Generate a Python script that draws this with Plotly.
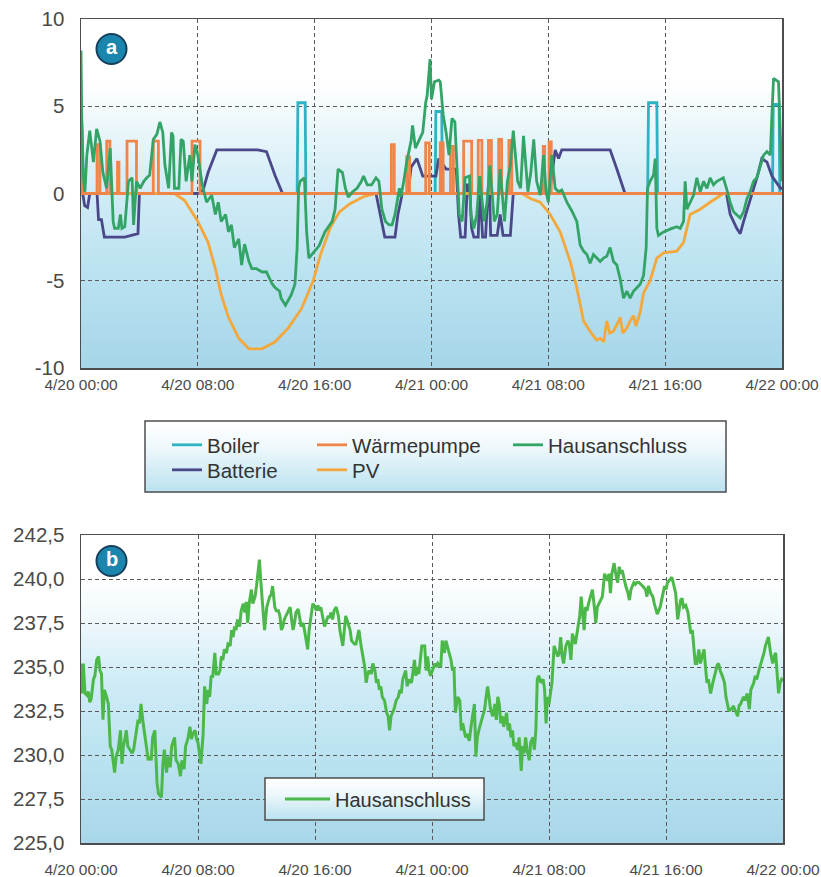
import plotly.graph_objects as go
import pandas as pd

# ---------------- Panel a: power (kW), hours since 4/20 00:00 ----------------
hausanschluss_h = [0.0, 0.05, 0.15, 0.27, 0.4, 0.6, 0.85, 1.07, 1.3, 1.5,
                   1.75, 2.0, 2.2, 2.3, 2.55, 2.7, 2.8, 3.0, 3.25, 3.5,
                   3.6, 3.8, 4.05, 4.3, 4.5, 4.7, 4.95, 5.2, 5.4, 5.6,
                   5.75, 6.0, 6.2, 6.3, 6.4, 6.7, 6.85, 7.0, 7.2, 7.45,
                   7.6, 7.8, 8.0, 8.3, 8.6, 8.95, 9.2, 9.4, 9.6, 9.9,
                   10.1, 10.3, 10.5, 10.8, 11.0, 11.2, 11.5, 11.7, 12.0, 12.4,
                   12.7, 13.1, 13.3, 13.6, 13.7, 14.0, 14.2, 14.4, 14.65, 14.8,
                   14.9, 15.0, 15.3, 15.45, 15.6, 15.9, 16.3, 16.7, 17.2, 17.4,
                   17.6, 17.9, 18.1, 18.3, 18.6, 18.9, 19.2, 19.35, 19.6, 19.9,
                   20.2, 20.4, 20.6, 20.85, 21.1, 21.3, 21.5, 21.8, 21.9, 22.1,
                   22.3, 22.6, 22.7, 22.9, 23.1, 23.4, 23.6, 23.7, 23.9, 24.0,
                   24.2, 24.5, 24.6, 24.8, 25.0, 25.2, 25.4, 25.6, 25.75, 25.9,
                   26.1, 26.3, 26.6, 26.7, 26.9, 27.1, 27.3, 27.6, 27.8, 28.0,
                   28.3, 28.5, 28.7, 29.0, 29.2, 29.4, 29.6, 29.9, 30.1, 30.3,
                   30.6, 30.8, 31.0, 31.2, 31.45, 31.67, 31.85, 32.0, 32.24, 32.47,
                   32.7, 32.92, 33.27, 33.61, 33.95, 34.18, 34.41, 34.64, 34.86, 35.09,
                   35.32, 35.55, 35.78, 36.0, 36.23, 36.46, 36.69, 36.92, 37.15, 37.38,
                   37.6, 37.83, 38.06, 38.29, 38.52, 38.7, 38.79, 38.97, 39.2, 39.32,
                   39.43, 39.54, 39.89, 40.12, 40.46, 40.8, 41.03, 41.26, 41.37, 41.49,
                   41.71, 41.94, 42.17, 42.4, 42.63, 42.86, 43.08, 43.31, 43.54, 43.98,
                   44.2, 44.45, 44.68, 44.9, 45.14, 45.37, 45.6, 45.82, 46.05, 46.28,
                   46.51, 46.74, 46.97, 47.2, 47.31, 47.42, 47.76, 47.9, 48.0]
hausanschluss_kw = [8.2, 4.5, 1.0, 0.1, 2.2, 3.6, 1.8, 3.7, 3.0, 1.2,
                    0.3, 2.6, -1.6, -2.0, -2.0, -1.2, -2.0, -1.9, 0.7, 0.9,
                    -1.8, 0.7, 0.3, 0.7, 0.9, 1.05, 3.1, 3.4, 4.1, 3.5,
                    1.6, 0.3, 3.5, 3.3, 0.3, 0.3, 3.1, 3.0, 0.7, 2.2,
                    0.7, 2.8, 2.2, 0.5, -0.5, -0.1, -1.2, -0.5, -1.6, -1.2,
                    -2.2, -1.8, -3.1, -2.6, -4.1, -2.9, -3.9, -4.3, -4.3, -4.5,
                    -4.5, -5.2, -5.4, -5.6, -6.0, -6.4, -6.1, -5.8, -5.2, -3.1,
                    0.3, 0.7, 0.9, -2.2, -3.7, -3.4, -3.0, -2.2, -1.6, -0.9,
                    1.4, 1.2, 0.3, -0.2, 0.1, 0.3, 0.7, 1.0, 0.5, 0.5,
                    0.9, 0.7, -0.9, -1.6, -1.8, -1.8, -1.2, 0.3, -0.2, 0.7,
                    1.8, 3.0, 3.9, 2.6, 3.0, 3.5, 5.2, 5.6, 7.7, 5.4,
                    6.4, 6.5, 6.4, 4.5, 3.5, 2.2, 4.3, 4.1, 1.4, -1.2,
                    -1.6, 0.9, 1.0, -1.2, -2.0, -1.2, 1.0, -1.6, -0.5, 1.6,
                    -1.6, -1.2, 1.4, -1.6, 0.7, 1.6, 3.6, 0.7, 0.3, 3.3,
                    0.1, 1.2, 3.1, 0.7, -0.1, 2.2, 0.1, -0.5, 2.2, 0.3,
                    0.1, 0.2, -0.5, -1.0, -1.6, -2.95, -3.3, -3.5, -4.0, -3.5,
                    -3.7, -3.9, -3.7, -3.6, -3.1, -3.9, -4.1, -4.9, -6.0, -5.6,
                    -6.0, -5.6, -5.4, -5.2, -4.7, -3.1, 0.3, 0.7, 1.05, 2.0,
                    -2.0, -2.4, -2.2, -2.1, -2.0, -1.9, -2.0, -1.6, 0.7, -0.9,
                    -0.5, -0.1, 0.9, 0.1, 0.7, 0.3, 0.9, 0.5, 0.7, 0.9,
                    0.3, -0.5, -1.05, -1.2, -1.4, -1.05, -0.3, 0.1, 0.7, 0.9,
                    1.6, 2.2, 2.4, 2.2, 4.5, 6.6, 6.4, 3.0, 0.7]

batterie_h = [0.0, 0.08, 0.25, 0.45, 0.6, 1.1, 1.2, 1.4, 1.6, 3.0,
              3.9, 4.0, 8.2, 8.4, 8.7, 9.3, 12.1, 12.7, 13.3, 13.7,
              13.8, 20.2, 20.6, 20.8, 21.5, 21.7, 22.0, 22.4, 22.6, 23.0,
              23.4, 24.3, 24.5, 25.0, 25.7, 25.85, 26.0, 26.3, 26.45, 26.6,
              26.75, 26.9, 27.2, 27.3, 27.5, 27.7, 27.8, 27.95, 28.05, 28.5,
              28.7, 28.9, 29.4, 29.6, 32.0, 32.13, 32.47, 32.7, 32.92, 36.23,
              36.69, 37.15, 37.25, 44.2, 44.45, 44.9, 45.14, 45.37, 45.71, 46.28,
              46.62, 46.97, 47.31, 47.9, 48.0]
batterie_kw = [2.5, 0.2, -0.7, -0.8, 0.0, 0.0, -1.5, -1.5, -2.5, -2.5,
               -2.3, 0.0, 0.0, 0.3, 1.2, 2.5, 2.5, 2.4, 1.0, 0.2,
               0.0, 0.0, -1.8, -2.5, -2.5, -1.2, 0.0, 0.0, 1.5, 2.0,
               1.0, 1.0, 2.0, 1.4, 1.4, -1.2, -2.5, -2.5, 0.5, 0.5,
               -2.0, -2.5, -2.5, 0.5, -2.5, -2.5, -0.9, 1.0, -2.4, -2.4,
               -1.2, -2.4, -2.4, 0.0, 0.0, 0.3, 2.5, 2.0, 2.5, 2.5,
               1.4, 0.2, 0.0, 0.0, -1.2, -2.0, -2.3, -1.6, -0.7, 0.9,
               2.0, 1.8, 1.0, 0.3, 0.3]

boiler_h = [0.0, 0.1, 0.15, 14.8, 14.85, 15.35, 15.4, 24.25, 24.3, 24.7,
            24.75, 38.8, 38.86, 39.43, 39.48, 47.35, 47.4, 47.8, 47.85, 48.0]
boiler_kw = [5.0, 3.0, 0.0, 0.0, 5.2, 5.2, 0.0, 0.0, 4.7, 4.7,
             0.0, 0.0, 5.2, 5.2, 0.0, 0.0, 5.1, 5.1, 0.0, 0.0]

pv_h = [0.0, 6.4, 7.1, 8.0, 8.7, 9.2, 9.6, 10.1, 10.8, 11.5,
        12.4, 13.3, 14.2, 15.1, 15.9, 16.4, 17.05, 17.7, 18.4, 19.3,
        20.2, 30.2, 30.8, 31.44, 32.13, 32.81, 33.5, 33.95, 34.41, 34.86,
        35.3, 35.55, 35.8, 36.0, 36.2, 36.46, 36.7, 36.92, 37.1, 37.38,
        37.6, 37.83, 38.0, 38.29, 38.52, 38.97, 39.43, 39.89, 40.8, 41.26,
        41.71, 42.4, 43.08, 43.98, 48.0]
pv_kw = [0.0, 0.0, -0.4, -1.6, -2.8, -4.3, -5.8, -7.1, -8.3, -8.9,
         -8.9, -8.5, -7.7, -6.6, -5.0, -3.5, -2.0, -1.05, -0.6, -0.2,
         0.0, 0.0, -0.3, -0.5, -1.2, -2.2, -3.9, -5.4, -7.3, -7.9,
         -8.4, -8.3, -8.5, -7.3, -8.0, -7.9, -7.5, -7.1, -8.0, -7.7,
         -7.3, -7.0, -7.6, -6.8, -5.7, -5.0, -3.7, -3.4, -3.3, -2.8,
         -1.2, -0.9, -0.5, 0.0, 0.0]

# Wärmepumpe on/off pulses
wp_on_h = [0.0, 1.1, 1.76, 2.5, 3.15, 4.95, 7.6, 21.25, 22.3, 23.6,
           24.6, 25.3, 26.2, 27.2, 27.9, 28.6, 29.3, 31.65, 32.05]
wp_off_h = [0.1, 1.3, 1.98, 2.6, 3.8, 5.3, 8.15, 21.45, 22.5, 23.85,
            24.8, 25.5, 26.75, 27.45, 28.1, 28.8, 29.5, 31.75, 32.2]
wp_kw = [2.9, 2.8, 3.0, 1.8, 3.0, 3.0, 3.0, 2.8, 2.1, 2.9,
         2.9, 2.7, 3.0, 3.05, 3.05, 3.1, 3.05, 2.7, 2.95]

# ---------------- Panel b: voltage (V) ----------------
spannung_h = [0.0, 0.05, 0.16, 0.27, 0.4, 0.5, 0.6, 0.7, 0.85, 0.95,
              1.07, 1.2, 1.3, 1.4, 1.5, 1.6, 1.75, 1.87, 2.0, 2.1,
              2.3, 2.4, 2.55, 2.7, 2.8, 2.9, 3.0, 3.1, 3.2, 3.5,
              3.6, 3.8, 3.9, 4.0, 4.1, 4.25, 4.4, 4.5, 4.6, 4.7,
              4.8, 4.9, 5.05, 5.2, 5.3, 5.5, 5.6, 5.7, 5.85, 5.95,
              6.1, 6.2, 6.3, 6.4, 6.5, 6.65, 6.8, 6.9, 7.05, 7.15,
              7.3, 7.45, 7.55, 7.65, 7.8, 7.9, 8.0, 8.2, 8.35, 8.45,
              8.6, 8.7, 8.8, 8.9, 9.0, 9.15, 9.25, 9.4, 9.5, 9.6,
              9.7, 9.8, 9.95, 10.05, 10.2, 10.3, 10.4, 10.5, 10.6, 10.7,
              10.85, 10.95, 11.1, 11.2, 11.3, 11.4, 11.5, 11.65, 11.75, 11.9,
              12.0, 12.1, 12.2, 12.3, 12.45, 12.55, 12.7, 12.8, 12.9, 13.0,
              13.1, 13.25, 13.35, 13.5, 13.6, 13.7, 13.8, 13.9, 14.0, 14.15,
              14.3, 14.4, 14.5, 14.6, 14.7, 14.85, 14.95, 15.05, 15.2, 15.3,
              15.4, 15.5, 15.6, 15.75, 15.85, 16.0, 16.1, 16.2, 16.3, 16.4,
              16.65, 16.9, 17.0, 17.1, 17.2, 17.3, 17.45, 17.6, 17.7, 17.9,
              18.0, 18.1, 18.25, 18.4, 18.5, 18.7, 18.8, 19.0, 19.15, 19.3,
              19.4, 19.5, 19.6, 19.7, 19.85, 19.95, 20.1, 20.2, 20.3, 20.4,
              20.5, 20.6, 20.75, 20.9, 21.0, 21.1, 21.2, 21.3, 21.4, 21.55,
              21.7, 21.8, 21.9, 22.0, 22.1, 22.2, 22.3, 22.45, 22.6, 22.7,
              22.8, 22.9, 23.0, 23.1, 23.3, 23.5, 23.6, 23.7, 23.8, 23.9,
              24.05, 24.2, 24.3, 24.4, 24.5, 24.6, 24.7, 24.85, 24.95, 25.1,
              25.2, 25.3, 25.4, 25.5, 25.6, 25.75, 25.9, 26.0, 26.1, 26.2,
              26.3, 26.4, 26.55, 26.7, 26.8, 26.9, 27.0, 27.1, 27.2, 27.35,
              27.5, 27.6, 27.7, 27.8, 27.9, 28.0, 28.15, 28.3, 28.4, 28.5,
              28.6, 28.7, 28.8, 28.9, 29.1, 29.2, 29.3, 29.4, 29.5, 29.6,
              29.7, 29.85, 29.96, 30.1, 30.2, 30.3, 30.4, 30.5, 30.65, 30.75,
              30.9, 31.0, 31.1, 31.2, 31.3, 31.45, 31.6, 31.7, 31.8, 31.9,
              32.0, 32.1, 32.2, 32.35, 32.5, 32.6, 32.7, 32.8, 32.9, 33.0,
              33.15, 33.3, 33.4, 33.5, 33.6, 33.7, 33.8, 33.95, 34.1, 34.2,
              34.3, 34.4, 34.5, 34.6, 34.7, 34.85, 34.97, 35.1, 35.2, 35.3,
              35.4, 35.5, 35.65, 35.8, 35.9, 36.0, 36.1, 36.2, 36.3, 36.45,
              36.6, 36.7, 36.8, 36.9, 37.0, 37.1, 37.25, 37.4, 37.5, 37.6,
              37.7, 37.8, 37.9, 38.0, 38.15, 38.3, 38.4, 38.5, 38.6, 38.7,
              38.8, 38.95, 39.1, 39.2, 39.3, 39.4, 39.5, 39.6, 39.75, 39.9,
              40.0, 40.1, 40.2, 40.3, 40.4, 40.55, 40.66, 40.8, 40.9, 41.0,
              41.1, 41.2, 41.35, 41.5, 41.6, 41.7, 41.8, 41.9, 42.0, 42.1,
              42.25, 42.35, 42.5, 42.6, 42.7, 42.8, 42.9, 43.05, 43.2, 43.3,
              43.4, 43.5, 43.6, 43.7, 43.85, 44.0, 44.1, 44.2, 44.3, 44.4,
              44.5, 44.6, 44.75, 44.9, 45.0, 45.1, 45.2, 45.3, 45.4, 45.55,
              45.7, 45.8, 45.9, 46.0, 46.1, 46.2, 46.35, 46.5, 46.6, 46.7,
              46.8, 46.9, 47.0, 47.15, 47.3, 47.4, 47.5, 47.6, 47.7, 47.8,
              47.9, 48.0]
spannung_v = [235.2, 233.5, 235.2, 233.5, 233.4, 233.6, 233.0, 233.2, 234.3, 234.5,
              235.4, 235.6, 234.8, 234.6, 232.0, 233.7, 233.3, 232.9, 230.5, 230.3,
              229.0, 229.9, 230.3, 231.4, 229.5, 230.5, 230.9, 231.4, 230.5, 230.1,
              230.3, 231.6, 232.0, 231.8, 232.9, 231.8, 231.0, 230.3, 229.7, 229.9,
              229.7, 231.0, 231.4, 228.4, 227.8, 227.6, 229.5, 230.3, 229.0, 229.9,
              229.3, 230.5, 230.7, 231.0, 229.7, 229.5, 228.8, 229.7, 229.2, 230.5,
              230.9, 231.6, 230.9, 231.2, 231.4, 230.9, 230.7, 229.5, 231.2, 233.9,
              232.9, 233.7, 233.3, 234.5, 234.4, 235.8, 234.6, 234.6, 234.8, 235.6,
              235.4, 236.0, 235.8, 236.3, 236.2, 237.1, 236.7, 237.3, 237.1, 237.7,
              237.3, 238.2, 238.6, 238.1, 238.7, 237.5, 238.6, 239.4, 238.6, 239.0,
              239.6, 240.3, 241.1, 239.8, 238.1, 237.1, 238.4, 238.8, 239.0, 239.1,
              239.6, 238.4, 238.2, 238.2, 237.9, 237.1, 237.3, 237.7, 237.9, 238.2,
              238.4, 237.7, 237.1, 237.5, 238.1, 238.3, 237.7, 237.3, 237.5, 236.9,
              236.5, 236.0, 237.1, 238.2, 238.6, 238.4, 238.2, 238.5, 238.2, 238.4,
              237.3, 237.9, 237.8, 238.1, 237.7, 238.2, 238.4, 237.9, 237.1, 236.2,
              237.3, 237.9, 237.5, 237.1, 236.5, 236.3, 236.3, 237.1, 236.2, 235.6,
              235.0, 234.1, 234.6, 234.8, 234.6, 235.2, 234.8, 234.1, 234.3, 233.7,
              233.9, 233.3, 233.1, 232.4, 232.2, 231.4, 232.2, 232.4, 232.6, 233.1,
              233.3, 233.7, 233.5, 234.3, 234.5, 234.8, 233.9, 234.3, 234.1, 234.8,
              235.4, 234.5, 235.0, 234.6, 236.2, 236.2, 234.8, 235.6, 234.8, 234.5,
              234.8, 235.2, 235.0, 235.2, 235.1, 235.0, 236.5, 235.8, 236.5, 236.0,
              235.8, 235.4, 234.8, 235.0, 232.4, 233.3, 233.1, 231.4, 231.8, 231.4,
              231.0, 231.2, 230.8, 231.8, 232.4, 232.9, 229.9, 231.0, 231.4, 231.8,
              232.2, 232.6, 233.3, 233.9, 233.3, 232.6, 232.2, 232.9, 232.0, 233.3,
              232.9, 231.8, 232.2, 231.6, 232.4, 231.4, 231.8, 231.0, 231.4, 230.5,
              230.7, 230.3, 231.0, 229.1, 230.5, 230.1, 231.0, 230.3, 229.7, 230.7,
              231.0, 230.3, 231.4, 234.3, 234.5, 234.1, 234.3, 233.7, 231.8, 233.3,
              232.9, 233.7, 234.1, 236.2, 235.8, 235.6, 235.8, 236.7, 235.6, 235.2,
              236.2, 236.5, 236.2, 235.4, 236.9, 236.5, 236.3, 237.1, 237.9, 239.0,
              238.2, 237.1, 238.4, 238.2, 238.6, 239.0, 239.4, 238.4, 237.5, 238.4,
              238.6, 238.8, 239.0, 240.3, 240.1, 239.9, 240.3, 239.2, 240.3, 240.9,
              240.1, 239.8, 240.7, 240.3, 240.5, 240.1, 239.6, 239.2, 238.8, 239.4,
              239.6, 239.8, 239.7, 239.8, 239.8, 239.7, 239.6, 239.5, 239.4, 239.0,
              239.6, 239.2, 239.0, 238.6, 238.2, 238.0, 238.2, 238.4, 239.0, 239.6,
              239.4, 239.8, 239.9, 240.0, 240.1, 239.6, 239.2, 237.7, 238.2, 238.8,
              238.9, 238.4, 238.5, 238.1, 237.5, 236.9, 237.1, 236.3, 235.2, 235.2,
              236.0, 235.2, 235.6, 236.0, 235.0, 234.1, 234.3, 233.5, 234.1, 234.5,
              234.8, 235.1, 235.2, 234.8, 234.5, 234.1, 233.3, 232.9, 232.5, 232.6,
              232.6, 232.8, 232.5, 232.2, 232.8, 232.9, 233.1, 233.3, 233.1, 233.5,
              232.6, 233.7, 233.9, 234.1, 234.5, 234.3, 234.8, 235.2, 235.4, 235.8,
              236.2, 236.5, 236.7, 235.8, 235.2, 235.6, 235.8, 234.6, 233.5, 234.1,
              234.3, 234.2]

x_tick_hours = [0, 8, 16, 24, 32, 40, 48]
y_ticks_a = [-10, -5, 0, 5, 10]
y_ticktext_a = ["-10", "-5", "0", "5", "10"]
y_ticks_b = [225.0, 227.5, 230.0, 232.5, 235.0, 237.5, 240.0, 242.5]

# ---------------- helpers ----------------
T0 = pd.Timestamp("2024-04-20 00:00")


def to_time(hours):
    return [T0 + pd.Timedelta(hours=h) for h in hours]


# step series for the heat pump from its pulses
wp_h, wp_y = [0.0], [0.0]
for s, e, p in zip(wp_on_h, wp_off_h, wp_kw):
    wp_h += [s, s, e, e]
    wp_y += [0.0, p, p, 0.0]
wp_h.append(48.0)
wp_y.append(0.0)

C_BOILER = "#2fb3c2"
C_BATT = "#4a4889"
C_WP = "#f0854a"
C_PV = "#f4a83c"
C_HAUS = "#33a466"
C_HAUS_B = "#4db84a"
FONT = "Liberation Sans, Arial, sans-serif"

fig = go.Figure()
lw = 2.8
fig.add_trace(go.Scatter(x=to_time(boiler_h), y=boiler_kw, mode="lines", name="Boiler",
                         line=dict(color=C_BOILER, width=lw), legend="legend",
                         xaxis="x", yaxis="y"))
fig.add_trace(go.Scatter(x=to_time(batterie_h), y=batterie_kw, mode="lines", name="Batterie",
                         line=dict(color=C_BATT, width=lw), legend="legend2",
                         xaxis="x", yaxis="y"))
fig.add_trace(go.Scatter(x=to_time(pv_h), y=pv_kw, mode="lines", name="PV",
                         line=dict(color=C_PV, width=lw), legend="legend4",
                         xaxis="x", yaxis="y"))
fig.add_trace(go.Scatter(x=to_time(wp_h), y=wp_y, mode="lines", name="Wärmepumpe",
                         line=dict(color=C_WP, width=lw), legend="legend3",
                         xaxis="x", yaxis="y"))
fig.add_trace(go.Scatter(x=to_time(hausanschluss_h), y=hausanschluss_kw, mode="lines",
                         name="Hausanschluss", line=dict(color=C_HAUS, width=lw),
                         legend="legend5", xaxis="x", yaxis="y"))
fig.add_trace(go.Scatter(x=to_time(spannung_h), y=spannung_v, mode="lines",
                         name="Hausanschluss", line=dict(color=C_HAUS_B, width=3),
                         legend="legend6", xaxis="x2", yaxis="y2"))


# ---------------- background gradients ----------------
def lerp_color(stops, t):
    for (t0, c0), (t1, c1) in zip(stops[:-1], stops[1:]):
        if t0 <= t <= t1:
            f = 0 if t1 == t0 else (t - t0) / (t1 - t0)
            c = [round(a + (b - a) * f) for a, b in zip(c0, c1)]
            return "rgb(%d,%d,%d)" % tuple(c)
    return "rgb(%d,%d,%d)" % stops[-1][1]


stops_a = [(0.0, (255, 255, 255)), (0.18, (255, 255, 255)), (0.3, (236, 247, 251)),
           (0.5, (208, 236, 246)), (0.75, (184, 225, 240)), (1.0, (166, 214, 233))]
stops_b = [(0.0, (255, 255, 255)), (0.14, (255, 255, 255)), (0.3, (236, 247, 251)),
           (0.45, (210, 237, 247)), (0.7, (188, 227, 241)), (1.0, (168, 215, 233))]
stops_leg = [(0.0, (255, 255, 255)), (0.35, (240, 249, 252)), (1.0, (186, 226, 240))]

shapes = []
N = 60
for xr, yr, stops in (("x domain", "y domain", stops_a), ("x2 domain", "y2 domain", stops_b)):
    for k in range(N):
        t = (k + 0.5) / N
        shapes.append(dict(type="rect", xref=xr, yref=yr, x0=0, x1=1,
                           y0=1 - (k + 1) / N - 0.002, y1=1 - k / N,
                           fillcolor=lerp_color(stops, t), line=dict(width=0), layer="below"))


def paper_x(px):
    return (px - 81) / 703


def paper_y(py):
    return (843 - py) / 824


def legend_box(x0, x1, y0, y1, n=16):
    out = []
    for k in range(n):
        t = (k + 0.5) / n
        top = y0 + (y1 - y0) * k / n
        bot = y0 + (y1 - y0) * (k + 1) / n + 0.6
        out.append(dict(type="rect", xref="paper", yref="paper",
                        x0=paper_x(x0), x1=paper_x(x1), y0=paper_y(bot), y1=paper_y(top),
                        fillcolor=lerp_color(stops_leg, t), line=dict(width=0), layer="above"))
    out.append(dict(type="rect", xref="paper", yref="paper",
                    x0=paper_x(x0), x1=paper_x(x1), y0=paper_y(y1), y1=paper_y(y0),
                    fillcolor="rgba(0,0,0,0)", line=dict(color="#4d4d4d", width=1.5),
                    layer="above"))
    return out


shapes += legend_box(145, 726, 421, 492)
shapes += legend_box(265, 484, 778, 820)

# badges
for cy in (49, 561):
    shapes.append(dict(type="circle", xref="paper", yref="paper",
                       x0=paper_x(96.5), x1=paper_x(126.5),
                       y0=paper_y(cy + 15), y1=paper_y(cy - 15),
                       fillcolor="#1a86ae", line=dict(color="#173f5c", width=2), layer="above"))

annotations = [
    dict(text="<b>a</b>", x=paper_x(111.5), y=paper_y(47), xref="paper", yref="paper",
         showarrow=False, font=dict(family=FONT, size=20, color="white"),
         xanchor="center", yanchor="middle"),
    dict(text="<b>b</b>", x=paper_x(111.5), y=paper_y(559), xref="paper", yref="paper",
         showarrow=False, font=dict(family=FONT, size=20, color="white"),
         xanchor="center", yanchor="middle"),
]

axis_common = dict(showline=True, mirror=True, linecolor="#4d4d4d", linewidth=1.5,
                   showgrid=True, gridcolor="#5a5a5a", gridwidth=1, griddash="4px,3px",
                   zeroline=False, ticks="", ticklen=0, automargin=False)
x_common = dict(type="date", range=[T0, T0 + pd.Timedelta(hours=48)],
                tickvals=to_time(x_tick_hours), tickformat="%-m/%d %H:%M",
                ticklabeloverflow="allow",
                tickfont=dict(family=FONT, size=15.5, color="#4a4a4a"), **axis_common)
y_font = dict(family=FONT, size=20.5, color="#4a4a4a")


def leg(px_text, py_center, size=20.5, itemwidth=30):
    return dict(bgcolor="rgba(0,0,0,0)", borderwidth=0, orientation="v",
                xanchor="left", yanchor="middle",
                x=paper_x(px_text - itemwidth - 10), y=paper_y(py_center),
                font=dict(family=FONT, size=size, color="#333333"), itemwidth=itemwidth,
                itemclick=False, itemdoubleclick=False)


fig.update_layout(
    width=821, height=877,
    margin=dict(l=81, r=37, t=19, b=34, autoexpand=False),
    paper_bgcolor="white", plot_bgcolor="white",
    separators=",.",
    font=dict(family=FONT, color="#444"),
    xaxis=dict(domain=[0, 701 / 703], anchor="y", ticklabelstandoff=2, **x_common),
    yaxis=dict(domain=[paper_y(368), 1], anchor="x", range=[-10, 10], tickvals=y_ticks_a,
               ticktext=y_ticktext_a, tickfont=y_font, ticklabelstandoff=11, **axis_common),
    xaxis2=dict(domain=[0, 702 / 703], anchor="y2", ticklabelstandoff=12, **x_common),
    yaxis2=dict(domain=[0, paper_y(535)], anchor="x2", range=[225, 242.5],
                tickvals=y_ticks_b, tickformat=".1f", tickfont=y_font,
                ticklabelstandoff=11, **axis_common),
    legend=leg(207, 445),
    legend2=leg(207, 470),
    legend3=leg(352, 445),
    legend4=leg(352, 470),
    legend5=leg(548, 445),
    legend6=leg(335, 799, size=20, itemwidth=45),
    shapes=shapes,
    annotations=annotations,
    showlegend=True,
)

fig.write_html("out.html", config={"displayModeBar": False, "staticPlot": True},
               post_script="document.body.style.margin='0';document.body.style.padding='0';")
